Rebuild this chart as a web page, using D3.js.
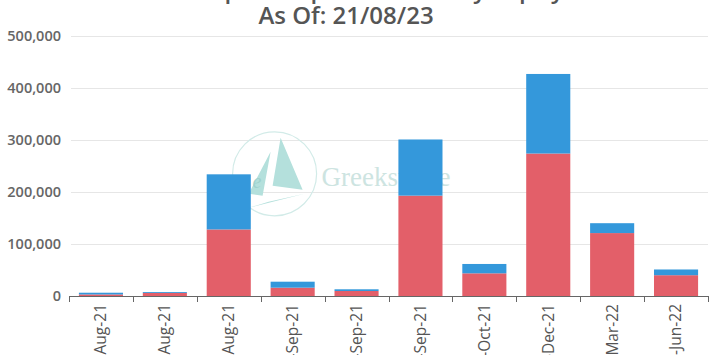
<!DOCTYPE html>
<html>
<head>
<meta charset="utf-8">
<script src="https://cdn.jsdelivr.net/npm/d3@7"></script>
<style>
  body { margin: 0; background: #fff; overflow: hidden; }
  text { font-family: "Open Sans", sans-serif; }
</style>
</head>
<body>
<div id="chart"></div>
<script>
// expiry dates (labels get clipped at the bottom like in the original)
var expiries = ["05-Aug-21", "12-Aug-21", "26-Aug-21", "02-Sep-21", "09-Sep-21",
                "30-Sep-21", "28-Oct-21", "30-Dec-21", "31-Mar-22", "30-Jun-22"];

// bottom (red) and top (blue) series
var redValues  = [3000, 6000, 128000, 16000, 9600, 193000, 43600, 274000, 121000, 40000];
var blueValues = [3300, 1700, 106000, 11500, 3300, 108000, 18000, 153000, 19000, 11000];

var yTicks = [0, 100000, 200000, 300000, 400000, 500000];

var W = 726, H = 355;
var margin = {top: 36, right: 18, bottom: 59, left: 69};
var width = W - margin.left - margin.right,
    height = H - margin.top - margin.bottom;

var svg = d3.select("#chart")
  .append("svg")
    .attr("width", W)
    .attr("height", H);

// title, first line sits mostly above the frame
svg.append("text")
    .attr("x", 350)
    .attr("y", -2)
    .attr("text-anchor", "middle")
    .style("font-size", "24px")
    .style("font-weight", "600")
    .attr("fill", "#555")
    .text("Stock Option Open Interest by Expiry");
svg.append("text")
    .attr("x", 346)
    .attr("y", 24)
    .attr("text-anchor", "middle")
    .style("font-size", "24px")
    .style("font-weight", "600")
    .attr("fill", "#555")
    .text("As Of: 21/08/23");

const g = svg.append("g")
    .attr("transform", `translate(${margin.left},${margin.top})`);

const x = d3.scaleBand()
  .domain(expiries)
  .range([0, width])
  .paddingInner(0.31)
  .paddingOuter(0.155);

const y = d3.scaleLinear()
  .domain([0, 500000])
  .range([height, 0]);

// grid lines
g.selectAll(".grid")
  .data(yTicks.slice(1))
  .join("line")
    .attr("x1", 2)
    .attr("x2", width)
    .attr("y1", d => y(d) + 0.5)
    .attr("y2", d => y(d) + 0.5)
    .attr("stroke", "#e6e6e6");

// y labels
g.selectAll(".ylab")
  .data(yTicks)
  .join("text")
    .attr("x", -8)
    .attr("y", d => y(d))
    .attr("dy", "0.35em")
    .attr("text-anchor", "end")
    .style("font-size", "14.5px")
    .style("font-weight", "600")
    .attr("fill", "#666")
    .text(d => d3.format(",")(d));

// watermark logo (behind the bars)
const wm = g.append("g")
    .attr("transform", `translate(${x(expiries[3]) + 4},${y(235000)})`);
wm.append("circle")
    .attr("r", 42)
    .attr("fill", "none")
    .attr("stroke", "#d2ebe8")
    .attr("stroke-width", 1.2);
wm.append("path")
    .attr("d", "M6,-36 L28,16 L-2,12 Z M-4,-22 L-26,20 L-12,22 Z M-26,34 L30,20 L-6,28 Z")
    .attr("fill", "#b4e0dc");
wm.append("text")
    .attr("x", -22)
    .attr("y", 14)
    .style("font-family", "'Liberation Serif', serif")
    .style("font-style", "italic")
    .style("font-size", "20px")
    .attr("fill", "#9fd2cd")
    .text("e");
wm.append("text")
    .attr("x", 47)
    .attr("y", 12)
    .style("font-family", "'Liberation Serif', serif")
    .style("font-size", "27px")
    .attr("fill", "#cde4e1")
    .text("Greeksware");

// stacked bars
const rows = expiries.map((e, i) => ({exp: e, red: redValues[i], blue: blueValues[i]}));
const stacked = d3.stack().keys(["red", "blue"])(rows);
const colors = {red: "#e35f69", blue: "#3498db"};

g.selectAll(".series")
  .data(stacked)
  .join("g")
    .attr("fill", d => colors[d.key])
  .selectAll("rect")
  .data(d => d)
  .join("rect")
    .attr("x", d => x(d.data.exp))
    .attr("y", d => y(d[1]))
    .attr("width", x.bandwidth())
    .attr("height", d => y(d[0]) - y(d[1]));

// x axis line with ticks at band edges
g.append("line")
    .attr("x1", 0).attr("x2", width)
    .attr("y1", height + 0.5).attr("y2", height + 0.5)
    .attr("stroke", "#666");
const edges = expiries.map(e => x(e) - x.step() * x.paddingInner() / 2).concat([width]);
g.selectAll(".xtick")
  .data(edges)
  .join("line")
    .attr("x1", d => Math.round(d) + 0.5).attr("x2", d => Math.round(d) + 0.5)
    .attr("y1", height).attr("y2", height + 6)
    .attr("stroke", "#666");

// rotated x labels
g.selectAll(".xlab")
  .data(expiries)
  .join("text")
    .attr("transform", d => `translate(${x(d) + x.bandwidth() / 2},${height + 8}) rotate(-90)`)
    .attr("dy", "0.35em")
    .attr("text-anchor", "end")
    .style("font-size", "15.5px")
    .attr("fill", "#555")
    .text(d => d);
</script>
</body>
</html>
